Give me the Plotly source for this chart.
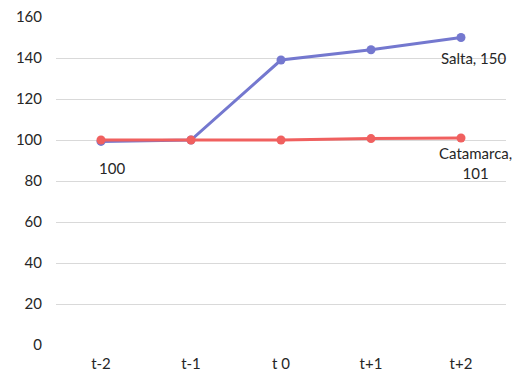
import plotly.graph_objects as go

categories = ["t-2", "t-1", "t 0", "t+1", "t+2"]
salta = [99.3, 100, 139, 144, 150]
catamarca = [100, 100, 100, 100.7, 101]
y_ticks = [0, 20, 40, 60, 80, 100, 120, 140, 160]

blue = "#7478CF"
red = "#F0605F"
font = "Lato"
txt = "#262626"

fig = go.Figure()
fig.add_trace(go.Scatter(x=categories, y=salta, mode="lines+markers", name="Salta",
                         line=dict(color=blue, width=3), marker=dict(size=9, color=blue)))
fig.add_trace(go.Scatter(x=categories, y=catamarca, mode="lines+markers", name="Catamarca",
                         line=dict(color=red, width=3), marker=dict(size=9, color=red)))

fig.add_annotation(x=categories[0], y=salta[0], text="100", showarrow=False,
                   xshift=11, yshift=-27, font=dict(size=15, color=txt, family=font))
fig.add_annotation(x=categories[-1], y=salta[-1], text="Salta, 150", showarrow=False,
                   xshift=13, yshift=-20, font=dict(size=15, color=txt, family=font))
fig.add_annotation(x=categories[-1], y=catamarca[-1], text="Catamarca,<br>101", showarrow=False,
                   xshift=14, yshift=-25, font=dict(size=15, color=txt, family=font))

fig.update_layout(
    width=512, height=378,
    margin=dict(l=56, r=6, t=17, b=33, autoexpand=False),
    paper_bgcolor="white", plot_bgcolor="white",
    showlegend=False,
    font=dict(family=font, size=15, color=txt),
    xaxis=dict(type="category", range=[-0.5, 4.5], showgrid=False, zeroline=False,
               showline=False, ticks="outside", ticklen=5, tickcolor="rgba(0,0,0,0)",
               automargin=False, tickfont=dict(size=15, color=txt, family=font)),
    yaxis=dict(range=[0, 160], tickvals=y_ticks, showgrid=True, gridcolor="#D9D9D9",
               gridwidth=1, zeroline=False, showline=False, ticks="outside", ticklen=10,
               automargin=False,
               tickcolor="rgba(0,0,0,0)", tickfont=dict(size=15, color=txt, family=font)),
)

fig.write_html("out.html", config={"displayModeBar": False},
               post_script="document.body.style.margin='0';document.body.style.overflow='hidden';")
